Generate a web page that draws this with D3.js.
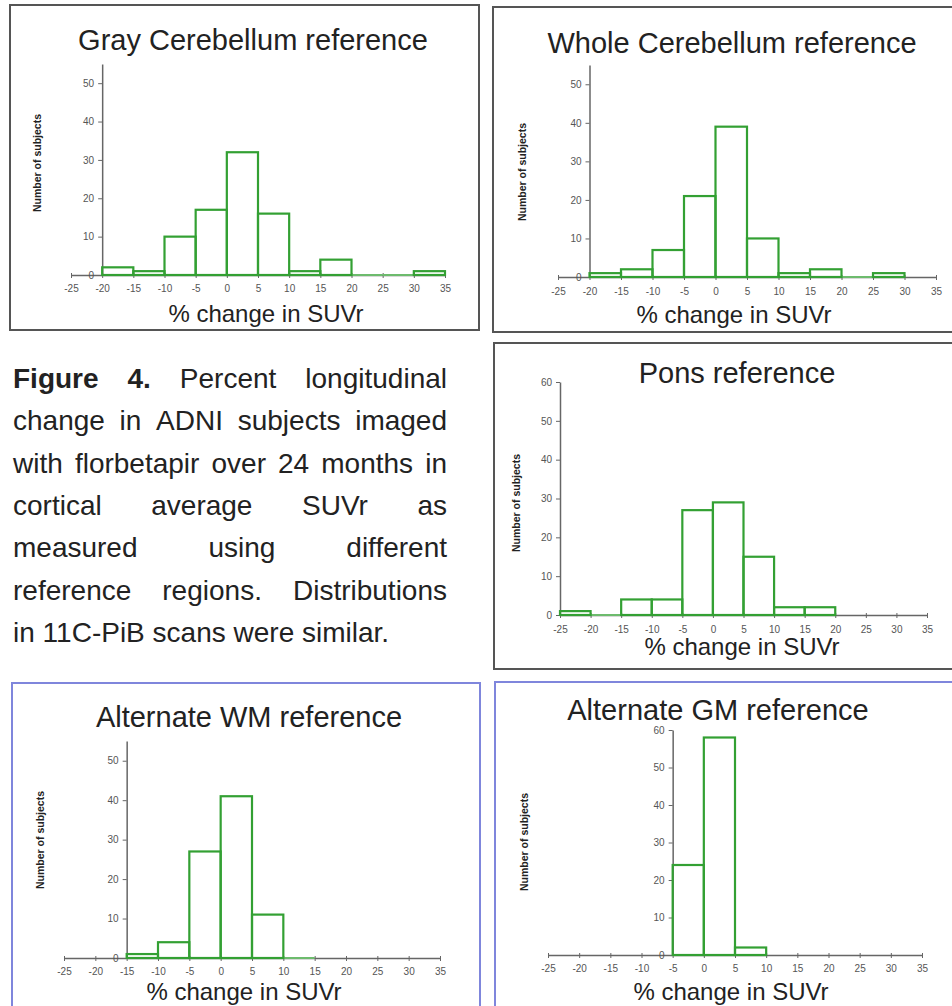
<!DOCTYPE html>
<html>
<head>
<meta charset="utf-8">
<script src="https://cdn.jsdelivr.net/npm/d3@7"></script>
<style>
  body { margin: 0; background: #fff; }
  svg { display: block; font-family: "Liberation Sans", Arial, sans-serif; }
</style>
</head>
<body>
<svg id="fig" width="952" height="1006"></svg>
<script>
// histogram counts, 5% bins, listed by left edge of each bin
var grayStarts = [-20, -15, -10, -5, 0, 5, 10, 15, 20, 25, 30];
var grayCounts = [2, 1, 10, 17, 32, 16, 1, 4, 0, 0, 1];

var wholeStarts = [-20, -15, -10, -5, 0, 5, 10, 15, 20, 25];
var wholeCounts = [1, 2, 7, 21, 39, 10, 1, 2, 0, 1];

var ponsStarts = [-25, -20, -15, -10, -5, 0, 5, 10, 15];
var ponsCounts = [1, 0, 4, 4, 27, 29, 15, 2, 2];

var wmStarts = [-15, -10, -5, 0, 5, 10];
var wmCounts = [1, 4, 27, 41, 11, 0];

var gmStarts = [-5, 0, 5];
var gmCounts = [24, 58, 2];

var titles = ["Gray Cerebellum reference", "Whole Cerebellum reference", "Pons reference",
              "Alternate WM reference", "Alternate GM reference"];
var xTickValues = [-25, -20, -15, -10, -5, 0, 5, 10, 15, 20, 25, 30, 35];
var yTicks55 = [0, 10, 20, 30, 40, 50];
var yTicks60 = [0, 10, 20, 30, 40, 50, 60];

var captionLines = [
  "Figure 4. Percent longitudinal",
  "change in ADNI subjects imaged",
  "with florbetapir over 24 months in",
  "cortical average SUVr as",
  "measured using different",
  "reference regions. Distributions",
  "in 11C-PiB scans were similar."
];

var green = "#33a033";
var svg = d3.select("#fig");

// layout of each panel (pixels)
var panels = [
  { title: titles[0], starts: grayStarts, counts: grayCounts, yMax: 55, yTicks: yTicks55, yAxisAt: -20,
    box: [10, 5, 479, 330], border: "#555", xl: 71, xr: 445, y0: 275, yTop: 64,
    titleXY: [253, 50], xLabY: 292, xTitleXY: [266, 322], yLabXY: [37, 163] },
  { title: titles[1], starts: wholeStarts, counts: wholeCounts, yMax: 55, yTicks: yTicks55, yAxisAt: -20,
    box: [493, 7, 962, 332], border: "#555", xl: 558, xr: 936, y0: 277, yTop: 65,
    titleXY: [732, 53], xLabY: 295, xTitleXY: [734, 323], yLabXY: [522, 172] },
  { title: titles[2], starts: ponsStarts, counts: ponsCounts, yMax: 60, yTicks: yTicks60, yAxisAt: -25,
    box: [494, 343, 962, 669], border: "#555", xl: 560, xr: 927, y0: 615, yTop: 382,
    titleXY: [737, 383], xLabY: 633, xTitleXY: [742, 655], yLabXY: [516, 503] },
  { title: titles[3], starts: wmStarts, counts: wmCounts, yMax: 55, yTicks: yTicks55, yAxisAt: -15,
    box: [12, 683, 480, 1030], border: "#7f86dc", xl: 64, xr: 440, y0: 958, yTop: 741,
    titleXY: [249, 727], xLabY: 975, xTitleXY: [244, 1000], yLabXY: [40, 840] },
  { title: titles[4], starts: gmStarts, counts: gmCounts, yMax: 60, yTicks: yTicks60, yAxisAt: -5,
    box: [495, 682, 962, 1030], border: "#7f86dc", xl: 548, xr: 922, y0: 955, yTop: 730,
    titleXY: [718, 720], xLabY: 972, xTitleXY: [731, 1000], yLabXY: [524, 842] }
];

panels.forEach(function(p) {
  var g = svg.append("g");

  g.append("rect")
    .attr("x", p.box[0]).attr("y", p.box[1])
    .attr("width", p.box[2] - p.box[0]).attr("height", p.box[3] - p.box[1])
    .attr("fill", "none").attr("stroke", p.border).attr("stroke-width", 2);

  var x = d3.scaleLinear().domain([-25, 35]).range([p.xl, p.xr]);
  var y = d3.scaleLinear().domain([0, p.yMax]).range([p.y0, p.yTop]);

  // x axis
  var xAxis = g.append("g")
    .attr("transform", "translate(0," + p.y0 + ")")
    .call(d3.axisBottom(x).tickValues(xTickValues).tickFormat(String)
      .tickSize(3).tickSizeOuter(0).tickPadding(4));
  xAxis.select(".domain").attr("stroke", "#666").attr("stroke-width", 1.5);
  xAxis.selectAll(".tick line").attr("stroke", "#666").attr("y1", -2);
  xAxis.selectAll(".tick text")
    .attr("fill", "#555").attr("font-size", 10)
    .attr("y", p.xLabY - p.y0).attr("dy", 0);

  // y axis
  var yAxis = g.append("g")
    .attr("transform", "translate(" + x(p.yAxisAt) + ",0)")
    .call(d3.axisLeft(y).tickValues(p.yTicks).tickSize(4).tickSizeOuter(0).tickPadding(4));
  yAxis.select(".domain").attr("stroke", "#666").attr("stroke-width", 1.5);
  yAxis.selectAll(".tick line").attr("stroke", "#666");
  yAxis.selectAll(".tick text").attr("fill", "#555").attr("font-size", 10);

  // histogram bins
  var bins = p.starts.map(function(s, i) { return { x0: s, x1: s + 5, n: p.counts[i] }; });

  g.selectAll(".empty")
    .data(bins.filter(function(d) { return d.n === 0; }))
    .enter().append("line")
    .attr("x1", function(d) { return x(d.x0); })
    .attr("x2", function(d) { return x(d.x1); })
    .attr("y1", p.y0).attr("y2", p.y0)
    .attr("stroke", "#6dbb6d").attr("stroke-width", 2);

  g.selectAll(".bar")
    .data(bins.filter(function(d) { return d.n > 0; }))
    .enter().append("rect")
    .attr("x", function(d) { return x(d.x0); })
    .attr("y", function(d) { return y(d.n); })
    .attr("width", function(d) { return x(d.x1) - x(d.x0); })
    .attr("height", function(d) { return y(0) - y(d.n); })
    .attr("fill", "none")
    .attr("stroke", green).attr("stroke-width", 2.2);

  // texts
  g.append("text")
    .attr("x", p.titleXY[0]).attr("y", p.titleXY[1])
    .attr("text-anchor", "middle").attr("font-size", 29).attr("fill", "#222")
    .text(p.title);

  g.append("text")
    .attr("x", p.xTitleXY[0]).attr("y", p.xTitleXY[1])
    .attr("text-anchor", "middle").attr("font-size", 24).attr("fill", "#222")
    .text("% change in SUVr");

  g.append("text")
    .attr("transform", "translate(" + (p.yLabXY[0] + 4) + "," + p.yLabXY[1] + ") rotate(-90)")
    .attr("text-anchor", "middle").attr("font-size", 10.5).attr("font-weight", "bold").attr("fill", "#222")
    .text("Number of subjects");
});

// justified caption
var capLeft = 13, capRight = 447, capTop = 388, capStep = 42.3;
var cap = svg.append("g").attr("font-size", 28).attr("fill", "#222");

captionLines.forEach(function(line, i) {
  var words = line.split(" ");
  var yy = capTop + i * capStep;
  var widths = words.map(function(w, j) {
    var t = cap.append("text").attr("font-weight", i === 0 && j < 2 ? "bold" : null).text(w);
    var wd = t.node().getComputedTextLength();
    t.remove();
    return wd;
  });
  var total = d3.sum(widths);
  var last = i === captionLines.length - 1;
  var gap = last ? 7.8 : (capRight - capLeft - total) / (words.length - 1);
  var xx = capLeft;
  words.forEach(function(w, j) {
    cap.append("text")
      .attr("x", xx).attr("y", yy)
      .attr("font-weight", i === 0 && j < 2 ? "bold" : null)
      .text(w);
    xx += widths[j] + gap;
  });
});
</script>
</body>
</html>
